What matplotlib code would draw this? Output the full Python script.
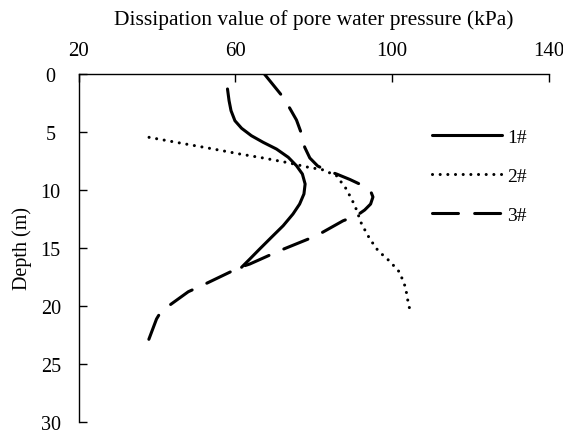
import matplotlib
matplotlib.use("Agg")
import matplotlib.pyplot as plt

plt.rcParams['font.family'] = ['Liberation Serif', 'DejaVu Serif']

# Series 1# (solid)
s1_x = [58.0, 58.4, 58.9, 59.9, 61.6, 64.1, 67.1, 70.5, 73.5, 75.6, 77.1, 77.8, 77.5, 76.4,
        74.7, 72.2, 69.2, 66.2, 63.7, 61.6]
s1_y = [1.29, 2.30, 3.16, 4.03, 4.68, 5.32, 5.89, 6.47, 7.18, 7.91, 8.62, 9.48, 10.34, 11.21,
        12.07, 13.08, 14.08, 15.09, 15.95, 16.66]

# Series 2# (dotted)
s2_x = [38.0, 45.9, 53.5, 61.2, 67.1, 73.5, 78.6, 82.2, 85.8, 88.3, 90.5, 92.2, 94.3, 96.4,
        99.4, 101.9, 103.4, 104.0, 104.5]
s2_y = [5.46, 5.95, 6.41, 6.90, 7.24, 7.65, 8.04, 8.25, 8.77, 9.91, 11.35, 12.93, 14.22, 15.23,
        16.15, 17.09, 18.39, 19.54, 20.32]

# Series 3# (dashed)
s3_x = [67.4, 72.0, 73.9, 75.6, 76.9, 77.7, 79.0, 81.0, 83.3, 85.8, 89.2, 92.6, 94.5, 95.1,
        94.5, 93.0, 90.9, 87.5, 80.7, 71.3, 63.7, 61.2, 51.4, 48.0, 42.5, 40.5, 39.9, 37.4]
s3_y = [0.0, 1.92, 2.96, 3.97, 5.17, 6.32, 7.24, 7.93, 8.32, 8.62, 9.09, 9.63, 10.09, 10.60,
        11.21, 11.72, 12.22, 12.65, 13.94, 15.23, 16.38, 16.66, 18.25, 18.77, 20.11, 20.78,
        21.12, 23.36]

x_ticks = [20, 60, 100, 140]
y_ticks = [0, 5, 10, 15, 20, 25, 30]

W, H = 563, 431
fig = plt.figure(figsize=(W/100, H/100), dpi=100)
L, R, T, B = 78.5, 549, 75, 423
ax = fig.add_axes([L/W, 1-B/H, (R-L)/W, (B-T)/H])

lw = 2.2
ax.plot(s1_x, s1_y, color='black', lw=lw, solid_capstyle='round', solid_joinstyle='round', label='1#')
ax.plot(s2_x, s2_y, color='black', lw=lw, linestyle=(0, (0.01, 2.5)), dash_capstyle='round', label='2#')
ax.plot(s3_x, s3_y, color='black', lw=lw, linestyle=(0, (8.5, 5.3)), dash_capstyle='round', label='3#')

ax.set_xlim(20, 140)
ax.set_ylim(30, 0)
ax.set_xticks(x_ticks)
ax.set_yticks(y_ticks)
ax.xaxis.tick_top()
ax.xaxis.set_label_position('top')
ax.spines['right'].set_visible(False)
ax.spines['bottom'].set_visible(False)
for s in ['top', 'left']:
    ax.spines[s].set_linewidth(1.0)
ax.tick_params(axis='both', direction='in', length=5.5, width=1.0, labelsize=15)
ax.tick_params(axis='y', labelsize=14.5)
ax.tick_params(axis='x', pad=10)
ax.tick_params(axis='y', pad=20)
for t in ax.get_yticklabels():
    t.set_horizontalalignment('center')
ax.set_xlabel('Dissipation value of pore water pressure (kPa)', fontsize=15.5, labelpad=12)
ax.set_ylabel('Depth (m)', fontsize=14.5, labelpad=6)

leg = ax.legend(loc='upper left', bbox_to_anchor=(431.7/W, 1-129.0/H), bbox_transform=fig.transFigure,
                frameon=False, fontsize=14, handlelength=3.6, handletextpad=0.3,
                labelspacing=1.1, borderaxespad=0, borderpad=0)

fig.savefig('out.png', dpi=100)
